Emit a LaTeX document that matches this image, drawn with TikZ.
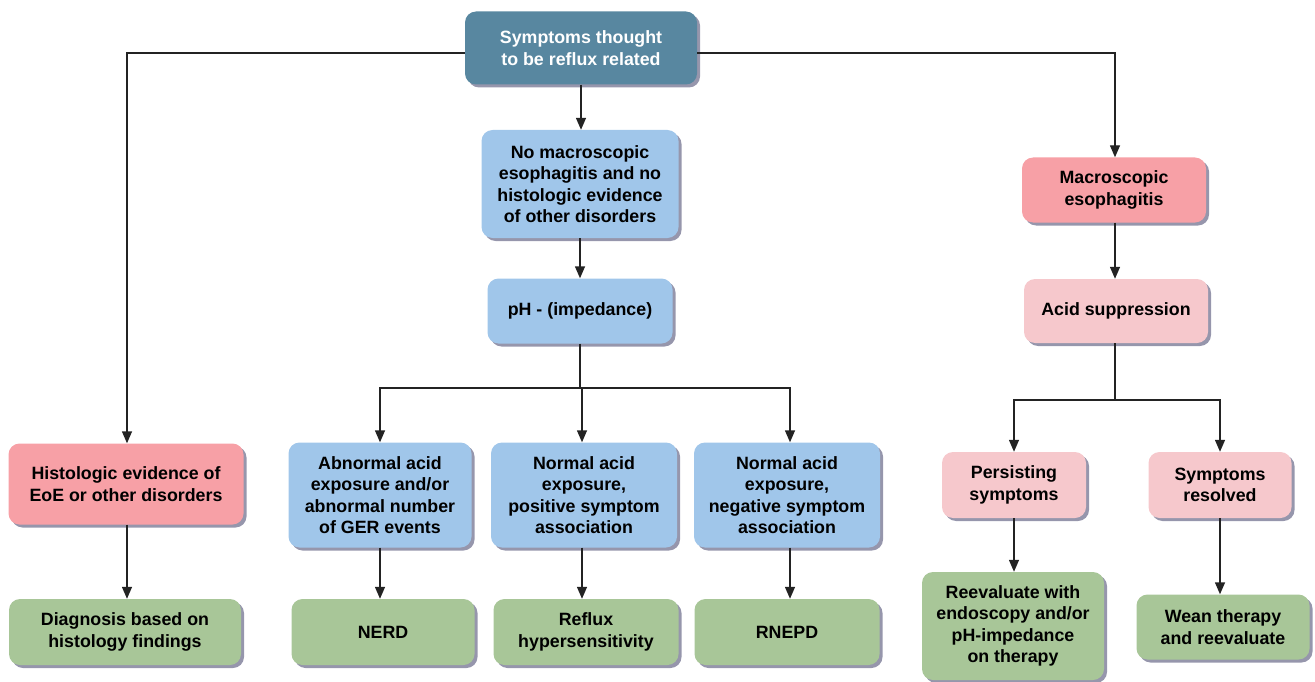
\documentclass[tikz,border=0pt]{standalone}
\usepackage{fontspec}
\setmainfont{Liberation Sans}
\usetikzlibrary{arrows.meta,shadows}
\definecolor{cTop}{RGB}{88,135,160}
\definecolor{cBlue}{RGB}{160,198,234}
\definecolor{cPink}{RGB}{247,160,166}
\definecolor{cPinkL}{RGB}{246,200,204}
\definecolor{cGreen}{RGB}{168,198,152}
\definecolor{cShadow}{RGB}{150,150,172}
\definecolor{cLine}{RGB}{35,35,35}
\tikzset{
  box/.style={rounded corners=11pt, align=center, inner sep=0pt,
    font=\fontsize{17.8}{21.5}\selectfont\bfseries,
    drop shadow={shadow xshift=3pt, shadow yshift=-3pt, fill=cShadow, opacity=1}},
  topbox/.style={box, fill=cTop, text=white},
  bluebox/.style={box, fill=cBlue},
  pinkbox/.style={box, fill=cPink},
  lpinkbox/.style={box, fill=cPinkL},
  greenbox/.style={box, fill=cGreen},
  conn/.style={draw=cLine, line width=1.4pt},
  arr/.style={conn, -{Triangle[length=12pt,width=10pt]}}
}
\begin{document}
\begin{tikzpicture}[x=1pt,y=-1pt]
\useasboundingbox (0,0) rectangle (1315,682);
% nodes
\node[topbox, minimum width=232pt, minimum height=73pt] (top) at (581,48) {Symptoms thought\\to be reflux related};
\node[bluebox, minimum width=197pt, minimum height=108pt] (nomac) at (580,184) {No macroscopic\\esophagitis and no\\histologic evidence\\of other disorders};
\node[bluebox, minimum width=185pt, minimum height=65pt] (ph) at (580,311) {pH - (impedance)};
\node[pinkbox, minimum width=184pt, minimum height=65pt] (mac) at (1114,190) {Macroscopic\\esophagitis};
\node[lpinkbox, minimum width=184pt, minimum height=64pt] (acid) at (1116,311) {Acid suppression};
\node[pinkbox, minimum width=235pt, minimum height=81pt] (hist) at (126,484) {Histologic evidence of\\EoE or other disorders};
\node[greenbox, minimum width=232pt, minimum height=66pt] (diag) at (125,632) {Diagnosis based on\\histology findings};
\node[bluebox, minimum width=183pt, minimum height=105pt] (abn) at (380,495) {Abnormal acid\\exposure and/or\\abnormal number\\of GER events};
\node[bluebox, minimum width=186pt, minimum height=105pt] (npos) at (584,495) {Normal acid\\exposure,\\positive symptom\\association};
\node[bluebox, minimum width=186pt, minimum height=105pt] (nneg) at (787,495) {Normal acid\\exposure,\\negative symptom\\association};
\node[greenbox, minimum width=183pt, minimum height=66pt] (nerd) at (383,632) {NERD};
\node[greenbox, minimum width=185pt, minimum height=66pt] (rh) at (586,632) {Reflux\\hypersensitivity};
\node[greenbox, minimum width=185pt, minimum height=66pt] (rnepd) at (787,632) {RNEPD};
\node[lpinkbox, minimum width=144pt, minimum height=66pt] (pers) at (1014,485) {Persisting\\symptoms};
\node[lpinkbox, minimum width=143pt, minimum height=66pt] (res) at (1220,485) {Symptoms\\resolved};
\node[greenbox, minimum width=182pt, minimum height=108pt] (reev) at (1013,626) {Reevaluate with\\endoscopy and/or\\pH-impedance\\on therapy};
\node[greenbox, minimum width=173pt, minimum height=65pt] (wean) at (1223,627) {Wean therapy\\and reevaluate};
% connectors
\draw[arr] (top.west |- 0,53) -| (hist.north -| 127,0);
\draw[arr] (top.east |- 0,53) -| (mac.north -| 1115,0);
\draw[arr] (top.south -| 581,0) -- (nomac.north -| 581,0);
\draw[arr] (nomac) -- (ph);
\coordinate (phj) at (580,388);
\draw[conn] (ph.south) -- (phj);
\draw[arr] (phj) -| (abn.north -| 380,0);
\draw[arr] (phj) -| (npos.north -| 582,0);
\draw[arr] (phj) -| (nneg.north -| 790,0);
\draw[arr] (mac.south -| 1115,0) -- (acid.north -| 1115,0);
\coordinate (acj) at (1115,400);
\draw[conn] (acid.south -| 1115,0) -- (acj);
\draw[arr] (acj) -| (pers.north -| 1014,0);
\draw[arr] (acj) -| (res.north -| 1220,0);
\draw[arr] (hist.south -| 127,0) -- (diag.north -| 127,0);
\draw[arr] (abn.south -| 380,0) -- (nerd.north -| 380,0);
\draw[arr] (npos.south -| 582,0) -- (rh.north -| 582,0);
\draw[arr] (nneg.south -| 790,0) -- (rnepd.north -| 790,0);
\draw[arr] (pers.south -| 1014,0) -- (reev.north -| 1014,0);
\draw[arr] (res.south -| 1220,0) -- (wean.north -| 1220,0);
\end{tikzpicture}
\end{document}
